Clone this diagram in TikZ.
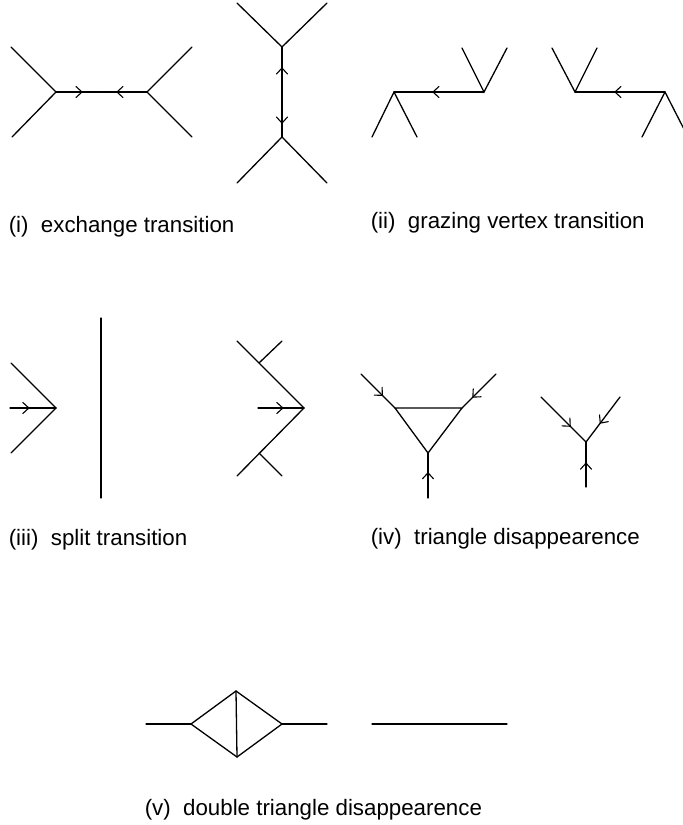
\documentclass[tikz,border=0pt]{standalone}
\usepackage{fontspec}
\setmainfont{Liberation Sans}
\usetikzlibrary{decorations.markings}
\tikzset{
  edge/.style={line width=1.3pt, line cap=round},
  chevat/.style={postaction={decorate}, decoration={markings,
    mark=at position #1 with {\draw[line width=1.1pt] (-6pt,5.5pt) -- (0pt,0pt) -- (-6pt,-5.5pt);}}},
  caption/.style={anchor=base west, inner sep=0pt, font=\fontsize{22.3}{26}\selectfont}
}
\begin{document}
\begin{tikzpicture}[x=1pt, y=-1pt]
\useasboundingbox (0,0) rectangle (683,825);
\clip (0,0) rectangle (683,825);

% ---- (i) exchange transition ----
\coordinate (a1) at (56,92);   \coordinate (b1) at (147,92);  \coordinate (m1) at (101.5,92);
\coordinate (a1u) at (11,47);  \coordinate (a1d) at (12,137);
\coordinate (b1u) at (192,47); \coordinate (b1d) at (192,137);
\draw[edge] (a1u) -- (a1) -- (a1d);
\draw[edge] (b1u) -- (b1) -- (b1d);
\draw[edge, chevat=0.571] (a1) -- (m1);
\draw[edge, chevat=0.66] (b1) -- (m1);

\coordinate (t2) at (282,47);   \coordinate (u2) at (282,137); \coordinate (m2) at (282,92);
\coordinate (t2l) at (237,3);   \coordinate (t2r) at (327,3);
\coordinate (u2l) at (237,183); \coordinate (u2r) at (327,183);
\draw[edge] (t2l) -- (t2) -- (t2r);
\draw[edge] (u2l) -- (u2) -- (u2r);
\draw[edge, chevat=0.533] (m2) -- (t2);
\draw[edge, chevat=0.69] (m2) -- (u2);

% ---- (ii) grazing vertex transition ----
\coordinate (g1l) at (394,92); \coordinate (g1r) at (484,92);
\draw[edge] (372,137) coordinate (g1a) -- (g1l) -- (417,137) coordinate (g1b);
\draw[edge] (462,48) coordinate (g1c) -- (g1r) -- (507,48) coordinate (g1d);
\draw[edge, chevat=0.567] (g1r) -- (g1l);

\coordinate (g2l) at (575,92); \coordinate (g2r) at (665,92);
\draw[edge] (552,48) coordinate (g2a) -- (g2l) -- (597,48) coordinate (g2b);
\draw[edge] (642,137) coordinate (g2c) -- (g2r) -- (688,137) coordinate (g2d);
\draw[edge, chevat=0.556] (g2r) -- (g2l);

% ---- (iii) split transition ----
\coordinate (s1) at (56,408);
\draw[edge] (11,363) coordinate (s1a) -- (s1) -- (11,453) coordinate (s1b);
\coordinate (s1h) at (10,408);
\draw[edge, chevat=0.41] (s1h) -- (s1);
\coordinate (sv1) at (101,318); \coordinate (sv2) at (101,498);
\draw[edge] (sv1) -- (sv2);

\coordinate (s2) at (304,408);
\coordinate (s2a) at (237,341); \coordinate (s2b) at (237,476);
\coordinate (s2c) at (259,363); \coordinate (s2d) at (259,453);
\draw[edge] (s2a) -- (s2) -- (s2b);
\draw[edge] (s2c) -- (282,341) coordinate (s2e);
\draw[edge] (s2d) -- (282,476) coordinate (s2f);
\coordinate (s2h) at (258,408);
\draw[edge, chevat=0.54] (s2h) -- (s2);

% ---- (iv) triangle disappearence ----
\coordinate (tl) at (395,408); \coordinate (tr) at (462,408); \coordinate (tb) at (428,453);
\draw[edge] (tl) -- (tr) -- (tb) -- cycle;
\coordinate (tla) at (361,374); \coordinate (tra) at (496,374); \coordinate (tba) at (428,498);
\draw[edge, chevat=0.63] (tla) -- (tl);
\draw[edge, chevat=0.68] (tra) -- (tr);
\draw[edge, chevat=0.56] (tba) -- (tb);

\coordinate (yv) at (586,442);
\coordinate (yl) at (541,397); \coordinate (yr) at (620,397); \coordinate (yb) at (586,487);
\draw[edge, chevat=0.65] (yl) -- (yv);
\draw[edge, chevat=0.58] (yr) -- (yv);
\draw[edge, chevat=0.53] (yb) -- (yv);

% ---- (v) double triangle disappearence ----
\coordinate (dl) at (191,724); \coordinate (dt) at (236,691);
\coordinate (db) at (237,757); \coordinate (dr) at (282,724);
\coordinate (dle) at (146,724); \coordinate (dre) at (327,724);
\draw[edge] (dle) -- (dl);
\draw[edge] (dl) -- (dt) -- (dr) -- (db) -- cycle;
\draw[edge] (dt) -- (db);
\draw[edge] (dr) -- (dre);
\coordinate (e1) at (372,724); \coordinate (e2) at (507,724);
\draw[edge] (e1) -- (e2);

% ---- captions ----
\node[caption] (c1) at (8.6,232) {(i)~~exchange transition};
\node[caption] (c2) at (370.6,228) {(ii)~~grazing vertex transition};
\node[caption] (c3) at (8.6,545) {(iii)~~split transition};
\node[caption] (c4) at (370.6,544) {(iv)~~triangle disappearence};
\node[caption] (c5) at (144.6,815) {(v)~~double triangle disappearence};
\end{tikzpicture}
\end{document}
